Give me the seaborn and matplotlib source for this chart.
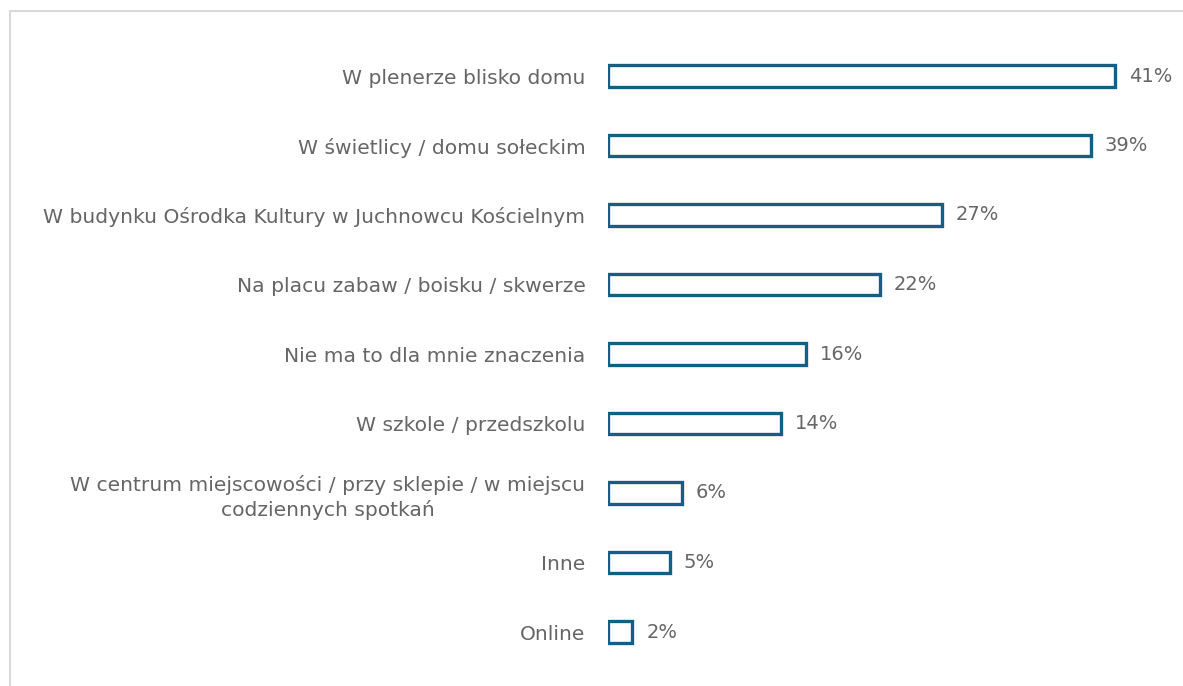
import matplotlib
matplotlib.use("Agg")
import matplotlib.pyplot as plt
import seaborn as sns
import pandas as pd
from matplotlib.patches import Rectangle

categories = [
    "W plenerze blisko domu",
    "W świetlicy / domu sołeckim",
    "W budynku Ośrodka Kultury w Juchnowcu Kościelnym",
    "Na placu zabaw / boisku / skwerze",
    "Nie ma to dla mnie znaczenia",
    "W szkole / przedszkolu",
    "W centrum miejscowości / przy sklepie / w miejscu\ncodziennych spotkań",
    "Inne",
    "Online",
]
values = [41, 39, 27, 22, 16, 14, 6, 5, 2]

df = pd.DataFrame({"kategoria": categories, "procent": values})

sns.set_theme(style="white")
plt.rcParams["font.family"] = ["DejaVu Sans"]

text_color = "#666666"
bar_color = "#156082"

fig = plt.figure(figsize=(11.83, 6.86), dpi=100)
ax = fig.add_axes([607.7 / 1183, 1 - 666.75 / 686, (1177 - 607.7) / 1183, (666.75 - 41.25) / 686])

sns.barplot(data=df, y="kategoria", x="procent", orient="h", ax=ax,
            width=0.31, color="white", edgecolor=bar_color, linewidth=2.4)

ax.set_xlim(0, (1177 - 607.7) / 12.385)
ax.set_ylim(8.5, -0.5)
ax.set_xlabel("")
ax.set_ylabel("")
ax.set_xticks([])
for s in ax.spines.values():
    s.set_visible(False)
ax.tick_params(axis="y", length=0, pad=16, labelsize=14.6, labelcolor=text_color)
for lbl in ax.get_yticklabels():
    lbl.set_multialignment("center")
    lbl.set_linespacing(1.3)

ax.bar_label(ax.containers[0], labels=[f"{v}%" for v in values], padding=10,
             fontsize=14, color=text_color)

fig.add_artist(Rectangle((10 / 1183, -0.1), 1.2, 1 - 11 / 686 + 0.1, transform=fig.transFigure,
                         fill=False, edgecolor="#d9d9d9", linewidth=1.5, clip_on=False))

fig.savefig("out.png", dpi=100, facecolor="white")
